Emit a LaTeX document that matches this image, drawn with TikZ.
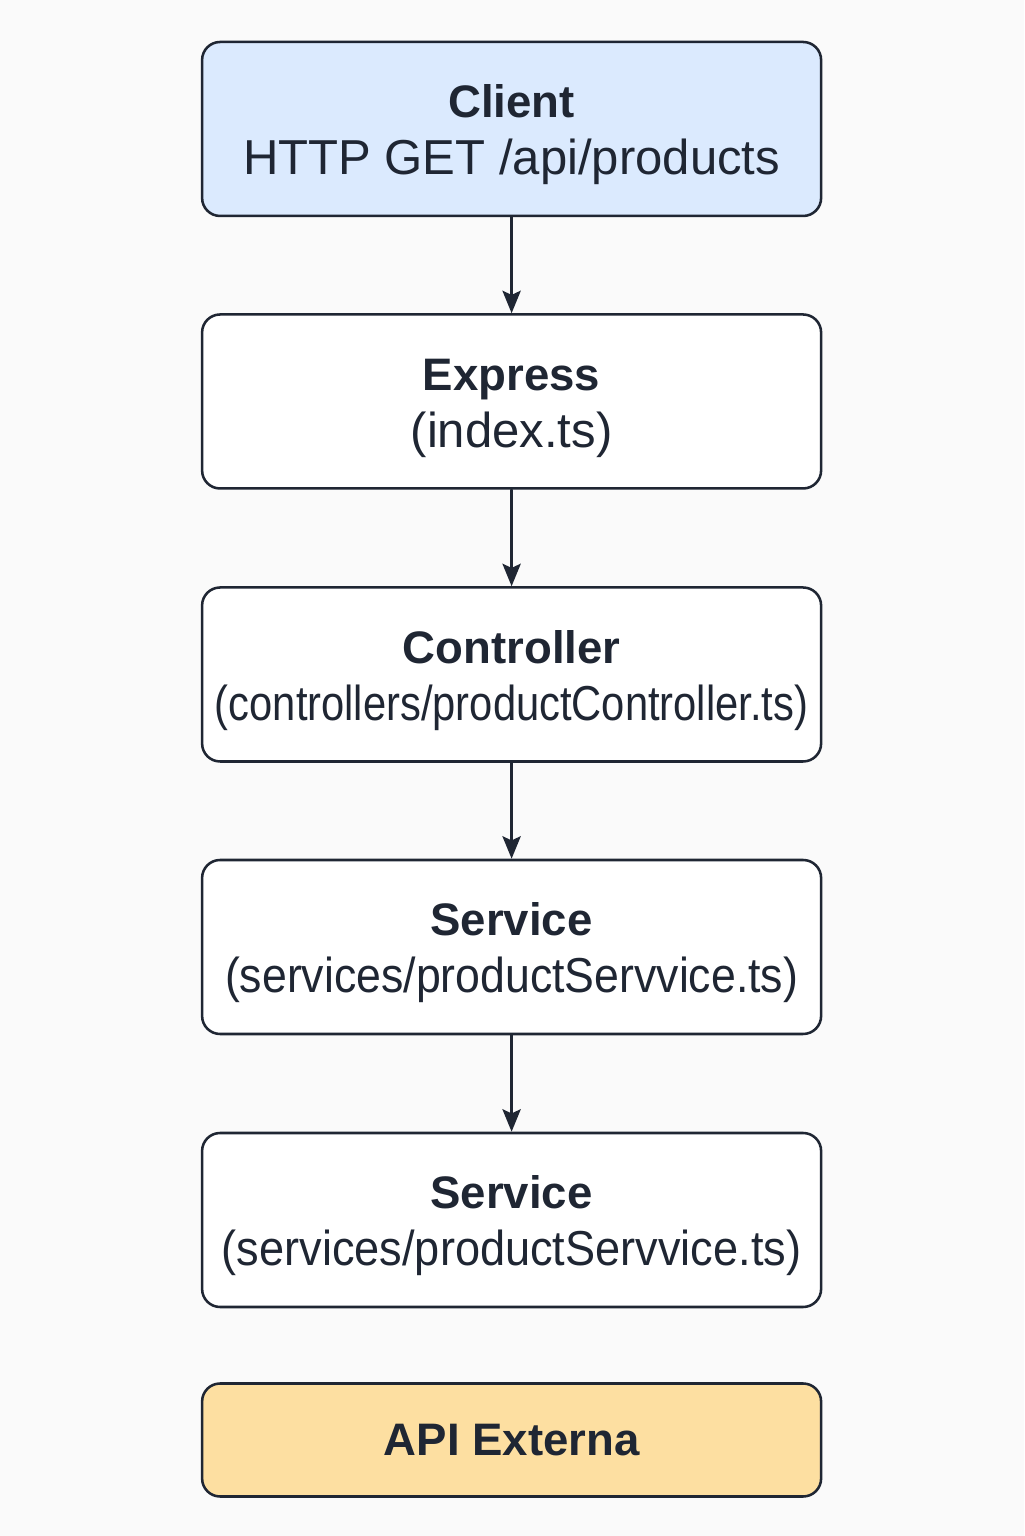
\documentclass[tikz,border=0pt]{standalone}
\usepackage{fontspec}
\setmainfont{Liberation Sans}
\usetikzlibrary{arrows.meta}
\definecolor{ink}{HTML}{1F2633}
\definecolor{paper}{HTML}{FAFAFA}
\definecolor{clientblue}{HTML}{DBEAFE}
\definecolor{apiorange}{HTML}{FDDFA1}
\newcommand{\boxname}[1]{{\fontsize{32.4}{40.5}\selectfont\bfseries #1}}
\newcommand{\boxhead}[1]{\rule{0pt}{32pt}\boxname{#1}}
\newcommand{\boxfile}[2][1]{\scalebox{#1}[1]{#2}}

\begin{document}
\begin{tikzpicture}[line cap=round,line join=round,x=1cm,y=1cm,
  layer/.style={draw=ink,line width=1.8pt,fill=white,rounded corners=0.45cm,
    minimum width=15.475cm,minimum height=4.35cm,inner sep=0pt,align=center,
    text=ink,font=\fontsize{34.9}{40.5}\selectfont},
  flow/.style={draw=ink,line width=1.8pt,-{Stealth[length=16pt,width=13pt,inset=3pt]}}]
\fill[paper] (0,0) rectangle (25.6,38.4);
\node[layer,fill=clientblue] (client) at (12.79,35.175) {\boxhead{Client}\\HTTP GET /api/products};
\node[layer] (express) at (12.79,28.3625) {\boxhead{Express}\\(index.ts)};
\node[layer] (controller) at (12.79,21.5375) {\boxhead{Controller}\\\boxfile[0.85]{(controllers/productController.ts)}};
\node[layer] (service) at (12.79,14.725) {\boxhead{Service}\\\boxfile[0.91]{(services/productServvice.ts)}};
\node[layer] (servicetwo) at (12.79,7.9) {\boxhead{Service}\\\boxfile[0.92]{(services/productServvice.ts)}};
\node[layer,fill=apiorange,minimum height=2.825cm] (api) at (12.79,2.4) {\boxname{API Externa}};
\draw[flow] (client) -- (express);
\draw[flow] (express) -- (controller);
\draw[flow] (controller) -- (service);
\draw[flow] (service) -- (servicetwo);
\end{tikzpicture}
\end{document}
